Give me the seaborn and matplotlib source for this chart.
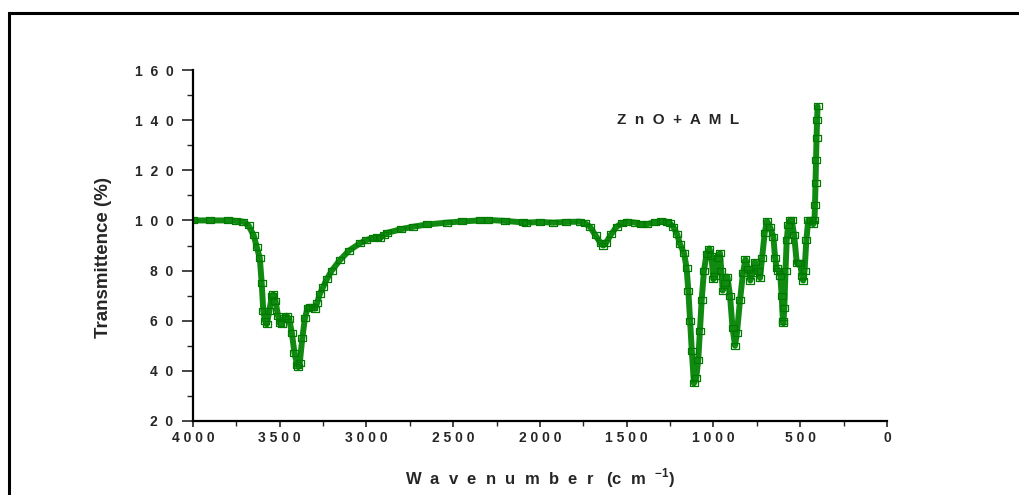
import matplotlib
matplotlib.use("Agg")
import matplotlib.pyplot as plt
import seaborn as sns
import pandas as pd
from matplotlib.ticker import MultipleLocator, FuncFormatter
from matplotlib.patches import Rectangle

wavenumber = [
    4000, 3900, 3800, 3750, 3710, 3680, 3650, 3633, 3615, 3604, 3595, 3585, 3575,
    3560, 3545, 3537, 3525, 3510, 3500, 3489, 3475, 3460, 3445, 3430, 3415, 3400,
    3393, 3385, 3370, 3355, 3340, 3326, 3310, 3297, 3285, 3270, 3250, 3229, 3200,
    3153, 3100, 3037, 3000, 2961, 2940, 2922, 2900, 2884, 2800, 2730, 2650, 2538,
    2450, 2346, 2300, 2200, 2100, 2078, 2000, 1923, 1850, 1769, 1740, 1712, 1680,
    1650, 1635, 1620, 1590, 1558, 1530, 1501, 1450, 1420, 1385, 1340, 1300, 1270,
    1251, 1232, 1210, 1193, 1170, 1155, 1145, 1135, 1125, 1113, 1100, 1088, 1078,
    1068, 1055, 1040, 1024, 1012, 1001, 990, 975, 963, 955, 947, 935, 920, 905,
    890, 876, 865, 847, 830, 816, 800, 788, 775, 761, 745, 732, 720, 705, 692,
    675, 655, 645, 636, 626, 615, 607, 600, 597, 592, 585, 578, 570, 560, 549,
    535, 520, 510, 501, 490, 483, 475, 465, 454, 440, 425, 418, 415, 412, 409,
    406, 403, 400,
]
transmittance = [
    100, 100, 100, 99.8, 99.5, 98, 94, 89.5, 85, 75, 64, 60, 58.5,
    64, 70, 70.5, 68, 62, 59, 58.5, 61, 62, 60.5, 55, 47, 42.5,
    41.5, 43, 53, 61, 65, 65.5, 65.5, 64.8, 67, 70.5, 73.5, 76.5, 80,
    84.2, 88, 90.9, 92.2, 93, 93.2, 93, 94.2, 95, 96.5, 97.5, 98.4, 99.1,
    99.6, 100, 100.2, 99.8, 99.2, 99.1, 99.4, 99.1, 99.4, 99.5, 98.8, 97.5, 94,
    90.8, 90, 91, 94.5, 97.5, 98.8, 99.5, 99.1, 98.5, 98.5, 99.2, 99.6, 99.5,
    98.8, 97.5, 94.5, 90.5, 87, 81, 72, 60, 48, 35, 37, 44.3, 56,
    68.3, 80, 86.5, 88.8, 86, 76.5, 78, 85, 87, 80, 72, 75, 77.6, 70,
    57, 50, 55, 68.3, 79, 84.5, 80.5, 76, 79, 83.5, 80, 77, 85, 95, 99.8,
    97.5, 93.5, 85, 81, 80, 78, 70, 60, 59, 65, 80, 92, 98, 100, 100,
    94, 83, 83, 83, 78, 76, 80, 92, 100, 100, 98.5, 100, 106, 115, 124,
    133, 140, 145.5,
]
annotation_text = "Z  n  O  +  A  M  L"
x_label = "W  a  v  e  n  u  m  b  e  r   (c  m  $^{\\mathbf{-1}}$)"
y_label = "Transmittence (%)"

df = pd.DataFrame({"wn": wavenumber, "T": transmittance})

sns.set_style("white")
plt.rcParams["font.family"] = ["Liberation Sans", "DejaVu Sans"]
plt.rcParams["mathtext.fontset"] = "custom"
plt.rcParams["mathtext.bf"] = "Liberation Sans:bold"
plt.rcParams["mathtext.rm"] = "Liberation Sans"

fig = plt.figure(figsize=(10.2, 4.95), dpi=100)
ax = fig.add_axes([193 / 1020, 1 - 421 / 495, 694 / 1020, 351 / 495])

rect_marker = [(-1.4, -1), (1.4, -1), (1.4, 1), (-1.4, 1), (-1.4, -1)]
sns.lineplot(data=df, x="wn", y="T", sort=False, ax=ax, color="#118a11",
             linewidth=4.3, marker=rect_marker, markersize=5.2,
             markerfacecolor="none", markeredgecolor="#007a00",
             markeredgewidth=0.9)

ax.set_xlim(4000, 0)
ax.set_ylim(20, 160)
ax.xaxis.set_major_locator(MultipleLocator(500))
ax.xaxis.set_minor_locator(MultipleLocator(250))
ax.yaxis.set_major_locator(MultipleLocator(20))
ax.yaxis.set_minor_locator(MultipleLocator(10))
ax.xaxis.set_major_formatter(FuncFormatter(lambda v, p: " ".join(str(int(round(v))))))
ax.yaxis.set_major_formatter(FuncFormatter(lambda v, p: "  ".join(str(int(round(v))))))

for s in ["top", "right"]:
    ax.spines[s].set_visible(False)
for s in ["left", "bottom"]:
    ax.spines[s].set_linewidth(1.6)
    ax.spines[s].set_color("black")

ax.tick_params(axis="y", which="major", direction="out", length=8, width=1.2,
               labelsize=10, pad=6, left=True)
ax.tick_params(axis="y", which="minor", direction="out", length=4, width=1.0, left=True)
ax.tick_params(axis="x", which="major", direction="out", length=4.5, width=1.2,
               labelsize=10, pad=3, bottom=True)
ax.tick_params(axis="x", which="minor", direction="out", length=3.5, width=1.0, bottom=True)
for lab in ax.get_xticklabels() + ax.get_yticklabels():
    lab.set_fontweight("bold")

ax.set_xlabel(x_label, fontsize=12, fontweight="bold", labelpad=15)
ax.set_ylabel(y_label, fontsize=13.5, fontweight="bold")
ax.yaxis.set_label_coords(-0.117, 0.467)

ax.text(1205, 140, annotation_text, fontsize=11, fontweight="bold",
        ha="center", va="center")

fig.patches.append(Rectangle((9 / 1020, -0.05), 1.1, (495 - 13) / 495 + 0.05,
                             transform=fig.transFigure, fill=False,
                             edgecolor="black", linewidth=2.2, zorder=0))

fig.savefig("out.png", dpi=100, facecolor="white")
